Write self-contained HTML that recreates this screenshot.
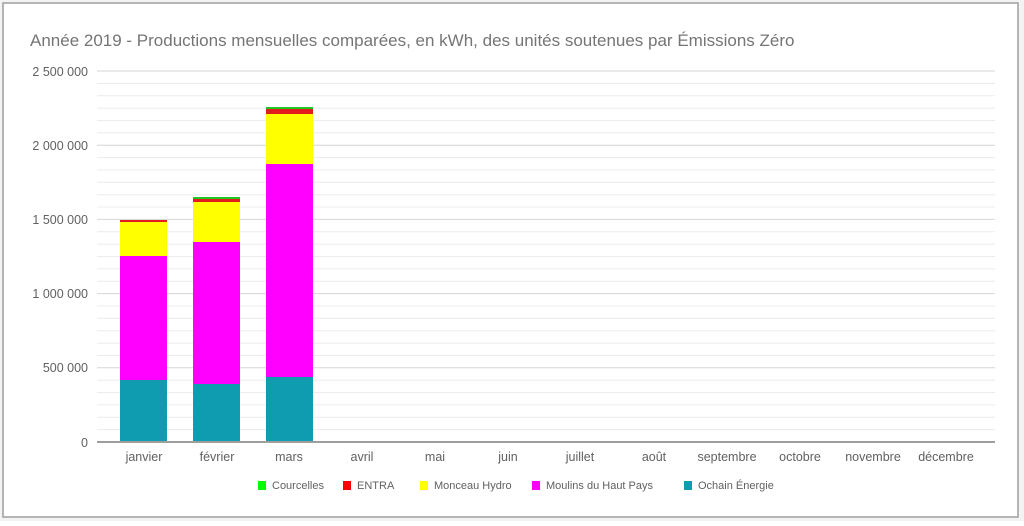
<!DOCTYPE html>
<html><head><meta charset="utf-8"><style>
body{margin:0;background:#fff;width:1024px;height:521px;overflow:hidden;font-family:"Liberation Sans",sans-serif;}
</style></head><body>
<svg width="1024" height="521" xmlns="http://www.w3.org/2000/svg" font-family="Liberation Sans, sans-serif">
<rect x="0" y="0" width="1024" height="521" fill="#f3f3f3"/>
<rect x="3" y="3" width="1015" height="514" fill="#fff" stroke="#9e9e9e" stroke-width="1.5"/>
<text x="30" y="46" font-size="17" fill="#757575">Année 2019 - Productions mensuelles comparées, en kWh, des unités soutenues par Émissions Zéro</text>
<g stroke="#ececec" stroke-width="1">
<line x1="97" x2="995" y1="83.4" y2="83.4"/><line x1="97" x2="995" y1="95.7" y2="95.7"/><line x1="97" x2="995" y1="108.1" y2="108.1"/><line x1="97" x2="995" y1="120.5" y2="120.5"/><line x1="97" x2="995" y1="132.8" y2="132.8"/>
<line x1="97" x2="995" y1="157.6" y2="157.6"/><line x1="97" x2="995" y1="169.9" y2="169.9"/><line x1="97" x2="995" y1="182.3" y2="182.3"/><line x1="97" x2="995" y1="194.7" y2="194.7"/><line x1="97" x2="995" y1="207" y2="207"/>
<line x1="97" x2="995" y1="231.8" y2="231.8"/><line x1="97" x2="995" y1="244.1" y2="244.1"/><line x1="97" x2="995" y1="256.5" y2="256.5"/><line x1="97" x2="995" y1="268.9" y2="268.9"/><line x1="97" x2="995" y1="281.2" y2="281.2"/>
<line x1="97" x2="995" y1="306" y2="306"/><line x1="97" x2="995" y1="318.3" y2="318.3"/><line x1="97" x2="995" y1="330.7" y2="330.7"/><line x1="97" x2="995" y1="343.1" y2="343.1"/><line x1="97" x2="995" y1="355.4" y2="355.4"/>
<line x1="97" x2="995" y1="380.2" y2="380.2"/><line x1="97" x2="995" y1="392.5" y2="392.5"/><line x1="97" x2="995" y1="404.9" y2="404.9"/><line x1="97" x2="995" y1="417.3" y2="417.3"/><line x1="97" x2="995" y1="429.6" y2="429.6"/>
</g>
<g stroke="#d6d6d6" stroke-width="1">
<line x1="97" x2="995" y1="71" y2="71"/><line x1="97" x2="995" y1="145.2" y2="145.2"/><line x1="97" x2="995" y1="219.4" y2="219.4"/><line x1="97" x2="995" y1="293.6" y2="293.6"/><line x1="97" x2="995" y1="367.8" y2="367.8"/>
</g>
<g font-size="12.5" fill="#616161" text-anchor="end">
<text x="88" y="76">2 500 000</text><text x="88" y="150">2 000 000</text><text x="88" y="224">1 500 000</text><text x="88" y="298">1 000 000</text><text x="88" y="372">500 000</text><text x="88" y="447">0</text>
</g>
<!-- bars -->
<g>
<rect x="120" y="380" width="47" height="62" fill="#0f9bb0"/>
<rect x="120" y="256" width="47" height="124" fill="#ff00ff"/>
<rect x="120" y="222" width="47" height="34" fill="#ffff00"/>
<rect x="120" y="220" width="47" height="2" fill="#e51c1c"/>
<rect x="193" y="384" width="47" height="58" fill="#0f9bb0"/>
<rect x="193" y="242" width="47" height="142" fill="#ff00ff"/>
<rect x="193" y="202" width="47" height="40" fill="#ffff00"/>
<rect x="193" y="199" width="47" height="3" fill="#e51c1c"/>
<rect x="193" y="197" width="47" height="2" fill="#22c622"/>
<rect x="266" y="377" width="47" height="65" fill="#0f9bb0"/>
<rect x="266" y="164" width="47" height="213" fill="#ff00ff"/>
<rect x="266" y="114" width="47" height="50" fill="#ffff00"/>
<rect x="266" y="109" width="47" height="5" fill="#e51c1c"/>
<rect x="266" y="107" width="47" height="2" fill="#22c622"/>
</g>
<line x1="97" x2="995" y1="442" y2="442" stroke="#9e9e9e" stroke-width="2"/>
<g font-size="12.5" fill="#616161" text-anchor="middle">
<text x="144" y="461">janvier</text><text x="217" y="461">février</text><text x="289" y="461">mars</text><text x="362" y="461">avril</text><text x="435" y="461">mai</text><text x="508" y="461">juin</text><text x="580" y="461">juillet</text><text x="654" y="461">août</text><text x="727" y="461">septembre</text><text x="800" y="461">octobre</text><text x="873" y="461">novembre</text><text x="946" y="461">décembre</text>
</g>
<g font-size="11" fill="#616161">
<rect x="258" y="481" width="8" height="9" fill="#00ff00"/><text x="272" y="489">Courcelles</text>
<rect x="343" y="481" width="8" height="9" fill="#ff0000"/><text x="357" y="489">ENTRA</text>
<rect x="420" y="481" width="8" height="9" fill="#ffff00"/><text x="434" y="489">Monceau Hydro</text>
<rect x="532" y="481" width="8" height="9" fill="#ff00ff"/><text x="546" y="489">Moulins du Haut Pays</text>
<rect x="684" y="481" width="8" height="9" fill="#0f9bb0"/><text x="698" y="489">Ochain Énergie</text>
</g>
</svg>
</body></html>
